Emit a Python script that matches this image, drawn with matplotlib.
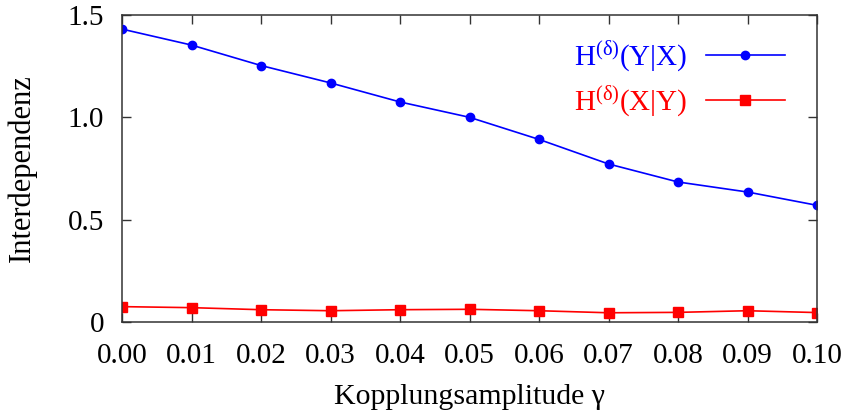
import matplotlib
matplotlib.use("Agg")
import matplotlib.pyplot as plt

# coupling amplitudes and interdependence measures
gamma = [0.00, 0.01, 0.02, 0.03, 0.04, 0.05, 0.06, 0.07, 0.08, 0.09, 0.10]
h_yx = [1.431, 1.353, 1.253, 1.168, 1.075, 1.000, 0.892, 0.772, 0.684, 0.635, 0.570]
h_xy = [0.075, 0.070, 0.060, 0.055, 0.060, 0.062, 0.055, 0.045, 0.047, 0.055, 0.046]

xticks = [0.00, 0.01, 0.02, 0.03, 0.04, 0.05, 0.06, 0.07, 0.08, 0.09, 0.10]
xtick_labels = ["0.00", "0.01", "0.02", "0.03", "0.04", "0.05",
                "0.06", "0.07", "0.08", "0.09", "0.10"]
yticks = [0, 0.5, 1.0, 1.5]
ytick_labels = ["0", "0.5", "1.0", "1.5"]

plt.rcParams["font.family"] = ["Liberation Serif", "DejaVu Serif"]
plt.rcParams["mathtext.fontset"] = "custom"
plt.rcParams["mathtext.rm"] = "Liberation Serif"
plt.rcParams["mathtext.it"] = "Liberation Serif"

fig = plt.figure(figsize=(8.45, 4.16), dpi=100)
ax = fig.add_axes([0.1444, 0.226, 0.8225, 0.738])

ax.plot(gamma, h_yx, color="#0000ff", lw=1.2, marker="o", ms=6,
        label=r"H$^{(δ)}$(Y|X)")
ax.plot(gamma, h_xy, color="#ff0000", lw=1.2, marker="s", ms=6.5,
        label=r"H$^{(δ)}$(X|Y)")

ax.set_xlim(0, 0.10)
ax.set_ylim(0, 1.5)
ax.set_xticks(xticks)
ax.set_xticklabels(xtick_labels)
ax.set_yticks(yticks)
ax.set_yticklabels(ytick_labels)
ax.tick_params(direction="in", length=6.5, width=1, labelsize=21,
               top=True, right=True, colors="#333333", labelcolor="black")
ax.tick_params(axis="x", pad=15)
ax.tick_params(axis="y", pad=13)
for s in ax.spines.values():
    s.set_linewidth(1.1)
    s.set_color("#333333")

ax.set_xlabel("Kopplungsamplitude γ", fontsize=21.5, labelpad=11)
ax.set_ylabel("Interdependenz", fontsize=22, labelpad=22)

leg = ax.legend(loc="upper right", frameon=False, markerfirst=False,
                fontsize=21, handlelength=2.7, handletextpad=0.65,
                labelcolor="linecolor", bbox_to_anchor=(0.97, 0.96),
                borderaxespad=0, labelspacing=0.35)

fig.savefig("out.png", dpi=100)
